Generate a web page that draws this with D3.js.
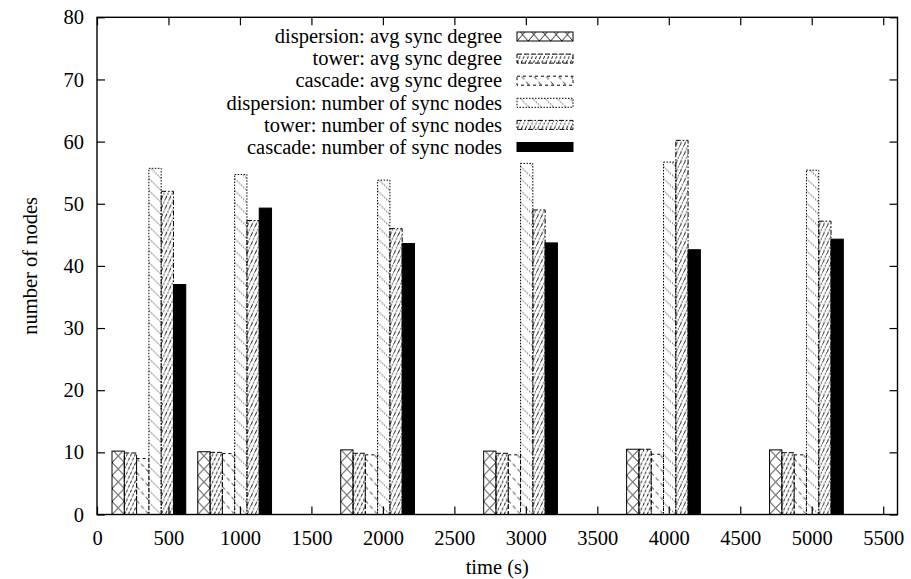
<!DOCTYPE html>
<html>
<head>
<meta charset="utf-8">
<script src="https://cdn.jsdelivr.net/npm/d3@7"></script>
<style>
  body { margin: 0; background: #fff; }
  svg text { font-family: "Liberation Serif", "Times New Roman", serif; font-size: 20.5px; fill: #000; }
</style>
</head>
<body>
<svg id="chart" width="911" height="579"></svg>
<script>
// Sampling times (s) of each group of bars
const times = [400, 1000, 2000, 3000, 4000, 5000];

const seriesNames = [
  "dispersion: avg sync degree",
  "tower: avg sync degree",
  "cascade: avg sync degree",
  "dispersion: number of sync nodes",
  "tower: number of sync nodes",
  "cascade: number of sync nodes"
];

const dispersionAvgDegree = [10.2, 10.1, 10.4, 10.2, 10.5, 10.4];
const towerAvgDegree      = [9.9, 10.0, 9.85, 9.85, 10.5, 9.95];
const cascadeAvgDegree    = [9.0, 9.8, 9.6, 9.6, 9.7, 9.6];
const dispersionSyncNodes = [55.7, 54.7, 53.8, 56.5, 56.7, 55.4];
const towerSyncNodes      = [52.0, 47.3, 46.0, 49.0, 60.2, 47.2];
const cascadeSyncNodes    = [37.0, 49.3, 43.6, 43.7, 42.6, 44.3];

const xTicks = d3.range(0, 5501, 500);
const yTicks = d3.range(0, 81, 10);

const seriesValues = [
  dispersionAvgDegree, towerAvgDegree, cascadeAvgDegree,
  dispersionSyncNodes, towerSyncNodes, cascadeSyncNodes
];

// Layout
const plotLeft = 97, plotRight = 897.5, plotTop = 17.3, plotBottom = 514.5;
const barWidth = 86;      // box width in time units
const groupShift = -295;  // left edge of the first box relative to its time
const fontSize = "20.5px";

const svg = d3.select("#chart");
const x = d3.scaleLinear().domain([0, 5600]).range([plotLeft, plotRight]);
const y = d3.scaleLinear().domain([0, 80]).range([plotBottom, plotTop]);
const bwPx = x(barWidth) - x(0);

// Stroke dash styles per series (border and hatch)
const borderDash = [null, "5,2", "3,3", "1.5,1.5", "5,2,1.5,2", null];
const hatchDash  = [null, "3,1.5", "4,3", "1.5,1.5", "4,1.5,1.5,1.5", null];

const defs = svg.append("defs");

// Builds a hatch pattern anchored at (ox, oy) for series s
function makePattern(id, s, ox, oy, w) {
  if (s === 5) return "#000";
  let tw, th, d;
  if (s === 0) {            // crosshatch
    tw = w; th = 13;
    d = `M0,0L${tw},${th}M${tw},0L0,${th}`;
  } else if (s === 1 || s === 4) { // dense steep "/"
    tw = w / 3; th = 9;
    d = `M0,${th}L${tw},0`;
  } else if (s === 2) {     // sparse "\"
    tw = w; th = 14;
    d = `M0,0L${tw},${th}`;
  } else {                  // "\"
    tw = w; th = 12;
    d = `M0,0L${tw},${th}`;
  }
  const p = defs.append("pattern")
    .attr("id", id)
    .attr("patternUnits", "userSpaceOnUse")
    .attr("x", ox).attr("y", oy)
    .attr("width", tw).attr("height", th);
  p.append("path")
    .attr("d", d)
    .attr("fill", "none")
    .attr("stroke", "#000")
    .attr("stroke-width", 0.9)
    .attr("stroke-dasharray", hatchDash[s]);
  return `url(#${id})`;
}

// Bars
const bars = [];
seriesValues.forEach((vals, s) => {
  vals.forEach((v, g) => {
    bars.push({ s, g, t: times[g], v });
  });
});

svg.append("g").selectAll("rect")
  .data(bars)
  .join("rect")
  .attr("x", d => x(d.t + groupShift + d.s * barWidth))
  .attr("y", d => y(d.v))
  .attr("width", bwPx)
  .attr("height", d => y(0) - y(d.v))
  .attr("fill", d => makePattern(`bar-${d.s}-${d.g}`, d.s,
        x(d.t + groupShift + d.s * barWidth), y(0), bwPx))
  .attr("stroke", "#000")
  .attr("stroke-width", 1)
  .attr("stroke-dasharray", d => borderDash[d.s]);

// Axes with inward ticks, mirrored on the opposite sides
svg.append("g")
  .attr("transform", `translate(0,${plotBottom})`)
  .call(d3.axisBottom(x).tickValues(xTicks).tickSize(-8).tickPadding(15.5).tickFormat(d3.format("d")))
  .call(g => g.select(".domain").remove());
svg.append("g")
  .attr("transform", `translate(0,${plotTop})`)
  .call(d3.axisTop(x).tickValues(xTicks).tickSize(-8).tickFormat(""))
  .call(g => g.select(".domain").remove());
svg.append("g")
  .attr("transform", `translate(${plotLeft},0)`)
  .call(d3.axisLeft(y).tickValues(yTicks).tickSize(-8).tickPadding(13).tickFormat(d3.format("d")))
  .call(g => g.select(".domain").remove());
svg.append("g")
  .attr("transform", `translate(${plotRight},0)`)
  .call(d3.axisRight(y).tickValues(yTicks).tickSize(-8).tickFormat(""))
  .call(g => g.select(".domain").remove());

svg.selectAll(".tick line").attr("stroke", "#000").attr("stroke-width", 1.2);
svg.selectAll(".tick text")
  .attr("font-family", null).attr("font-size", null)
  .style("font-family", '"Liberation Serif", "Times New Roman", serif')
  .style("font-size", fontSize);

// Plot border
svg.append("rect")
  .attr("x", plotLeft).attr("y", plotTop)
  .attr("width", plotRight - plotLeft).attr("height", plotBottom - plotTop)
  .attr("fill", "none").attr("stroke", "#000").attr("stroke-width", 1.4);

// Axis titles
svg.append("text")
  .attr("x", (plotLeft + plotRight) / 2).attr("y", 574)
  .attr("text-anchor", "middle")
  .text("time (s)");
svg.append("text")
  .attr("transform", `translate(37,${(plotTop + plotBottom) / 2}) rotate(-90)`)
  .attr("text-anchor", "middle")
  .text("number of nodes");

// Legend
const legendTextX = 502, sampleX = 517, sampleW = 56, sampleH = 9;
const legendY0 = 36.5, legendStep = 22.1;
const legend = svg.append("g");
seriesNames.forEach((name, s) => {
  const cy = legendY0 + s * legendStep;
  legend.append("text")
    .attr("x", legendTextX).attr("y", cy)
    .attr("dy", "0.33em")
    .attr("text-anchor", "end")
    .text(name);
  legend.append("rect")
    .attr("x", sampleX).attr("y", cy - sampleH / 2)
    .attr("width", sampleW).attr("height", sampleH)
    .attr("fill", makePattern(`key-${s}`, s, sampleX, cy + sampleH / 2, s === 0 ? 11.2 : bwPx))
    .attr("stroke", "#000")
    .attr("stroke-width", 1)
    .attr("stroke-dasharray", borderDash[s]);
});
</script>
</body>
</html>
